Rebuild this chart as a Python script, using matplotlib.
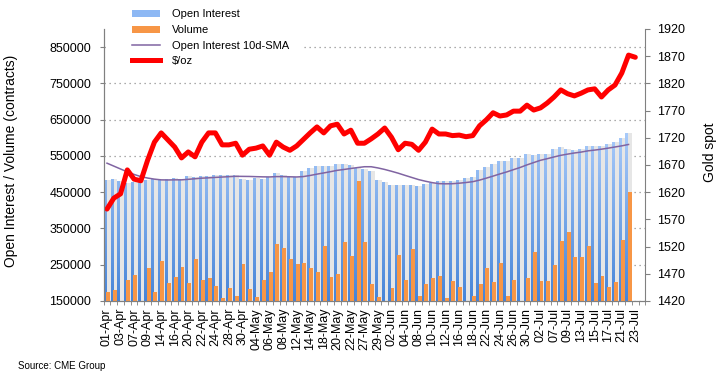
import numpy as np
import matplotlib
matplotlib.use('Agg')
import matplotlib.pyplot as plt
from matplotlib.path import Path
from matplotlib.patches import PathPatch, Patch, Rectangle
from matplotlib.lines import Line2D
from matplotlib.colors import LinearSegmentedColormap

plt.rcParams['font.family'] = ['Liberation Sans', 'DejaVu Sans']

dates = ['01-Apr', '02-Apr', '03-Apr', '06-Apr', '07-Apr', '08-Apr', '09-Apr', '13-Apr', '14-Apr', '15-Apr',
         '16-Apr', '17-Apr', '20-Apr', '21-Apr', '22-Apr', '23-Apr', '24-Apr', '27-Apr', '28-Apr', '29-Apr',
         '30-Apr', '01-May', '04-May', '05-May', '06-May', '07-May', '08-May', '11-May', '12-May', '13-May',
         '14-May', '15-May', '18-May', '19-May', '20-May', '21-May', '22-May', '26-May', '27-May', '28-May',
         '29-May', '01-Jun', '02-Jun', '03-Jun', '04-Jun', '05-Jun', '08-Jun', '09-Jun', '10-Jun', '11-Jun',
         '12-Jun', '15-Jun', '16-Jun', '17-Jun', '18-Jun', '19-Jun', '22-Jun', '23-Jun', '24-Jun', '25-Jun',
         '26-Jun', '29-Jun', '30-Jun', '01-Jul', '02-Jul', '06-Jul', '07-Jul', '08-Jul', '09-Jul', '10-Jul',
         '13-Jul', '14-Jul', '15-Jul', '16-Jul', '17-Jul', '20-Jul', '21-Jul', '22-Jul', '23-Jul', '24-Jul']

# thousands of contracts
open_interest = [485, 487, 480, 476, 478, 485, 485, 487, 487, 487,
                 489, 487, 494, 492, 494, 494, 497, 497, 497, 497,
                 487, 485, 488, 487, 492, 503, 497, 492, 492, 508,
                 518, 521, 521, 522, 529, 527, 524, 517, 515, 508,
                 485, 479, 471, 469, 469, 469, 466, 472, 476, 480,
                 480, 482, 485, 488, 492, 512, 520, 529, 535, 535,
                 543, 543, 556, 552, 555, 556, 568, 574, 568, 566,
                 568, 577, 577, 577, 584, 588, 599, 612]

volume = [176, 179, 140, 209, 223, 140, 241, 176, 259, 199,
          216, 245, 199, 265, 207, 213, 190, 158, 185, 165,
          251, 182, 162, 209, 231, 306, 297, 265, 253, 256,
          241, 229, 303, 215, 225, 312, 273, 480, 312, 198,
          162, 140, 185, 276, 209, 292, 163, 196, 213, 218,
          158, 204, 188, 140, 163, 196, 241, 202, 254, 163,
          209, 140, 213, 285, 204, 204, 248, 315, 340, 271,
          271, 303, 199, 218, 188, 202, 317, 450]

oi_sma = [530, 522, 514, 506, 499, 493, 489, 486, 484, 483.7,
          484.1, 484.1, 485.5, 487.1, 488.7, 489.6, 490.8, 491.8, 492.8, 493.8,
          493.6, 493.4, 492.8, 492.3, 492.1, 493.0, 493.0, 492.5, 492.0, 493.1,
          496.2, 499.8, 503.1, 506.6, 510.3, 512.7, 515.4, 517.9, 520.2, 520.2,
          516.9, 512.7, 507.7, 502.4, 496.4, 490.6, 484.8, 480.3, 476.4, 473.6,
          473.1, 473.4, 474.8, 476.7, 479.0, 483.3, 488.7, 494.4, 500.3, 505.8,
          512.1, 518.2, 525.3, 531.7, 538.0, 542.4, 547.2, 551.7, 555.0, 558.1,
          560.6, 564.0, 566.1, 568.6, 571.5, 574.7, 577.8, 581.6]

gold = [1589, 1609, 1617, 1661, 1644, 1641, 1679, 1712, 1729, 1716,
        1703, 1683, 1694, 1685, 1712, 1729, 1729, 1707, 1707, 1710,
        1688, 1699, 1701, 1705, 1688, 1712, 1703, 1697, 1705, 1717,
        1729, 1740, 1729, 1742, 1745, 1727, 1734, 1710, 1710, 1718,
        1727, 1738, 1721, 1698, 1710, 1708, 1697, 1712, 1736, 1727,
        1727, 1724, 1725, 1722, 1724, 1742, 1753, 1766, 1760, 1762,
        1769, 1769, 1780, 1771, 1775, 1784, 1795, 1808, 1801, 1797,
        1802, 1808, 1810, 1795, 1808, 1817, 1839, 1872, 1868]

n = len(dates)
x = np.arange(n)
def pad(v, scale=1.0):
    a = np.full(n, np.nan)
    a[:len(v)] = np.array(v, dtype=float) * scale
    return a

oi = pad(open_interest, 1000)
vol = pad(volume, 1000)
sma = pad(oi_sma, 1000)
px = pad(gold)

fig = plt.figure(figsize=(7.2, 3.83), dpi=100)
ax = fig.add_axes([0.1439, 0.2141, 0.7526, 0.7102])
ax2 = ax.twinx()

ok = ~np.isnan(oi)
# light "shadow" stripes next to the OI bars
ax.bar(x[ok] + 0.25, oi[ok], 0.56, color='#e6e6e6', zorder=1.5, linewidth=0)
blue = ax.bar(x[ok] - 0.25, oi[ok], 0.44, color='#6fa3ea', zorder=2, linewidth=0)
paths = [b.get_path().transformed(b.get_patch_transform()) for b in blue]
clip = PathPatch(Path.make_compound_path(*paths), transform=ax.transData, facecolor='none', edgecolor='none')
ax.add_patch(clip)
cmap = LinearSegmentedColormap.from_list('oi', ['#4684d8', '#a9cbfa'])
grad = np.linspace(1, 0, 256).reshape(-1, 1)
im = ax.imshow(grad, extent=(-0.5, n - 0.5, 150000, 615000), aspect='auto', cmap=cmap, zorder=2.1)
im.set_clip_path(clip)

ok_v = ~np.isnan(vol)
ax.bar(x[ok_v] + 0.15, vol[ok_v], 0.58, color='#f79646', zorder=3, linewidth=0)
ax.plot(x, sma, color='#8064a2', lw=1.1, zorder=4)

ax2.plot(x, px, color='#ff0000', lw=3.6, solid_capstyle='round', solid_joinstyle='round')

ax.set_xlim(-0.5, n - 0.5)
ax.set_ylim(150000, 900000)
ax.set_yticks(np.arange(150000, 850001, 100000))
ax2.set_ylim(1420, 1920)
ax2.set_yticks(np.arange(1420, 1921, 50))

ax.set_xticks(x[::2])
ax.set_xticklabels(dates[::2], rotation=90, fontsize=9)
ax.set_xticks(np.arange(n + 1) - 0.5, minor=True)
ax.tick_params(axis='x', which='major', length=0, pad=5)
ax.tick_params(axis='x', which='minor', length=3, color='#808080')
ax.tick_params(axis='y', labelsize=9, length=3, color='#808080', pad=6)
ax2.tick_params(axis='y', labelsize=9, length=3.5, color='#808080', pad=5)

ax.yaxis.grid(True, linestyle=(0, (1, 3)), color='#909090', lw=0.9)
ax.set_axisbelow(True)

for a in (ax, ax2):
    a.spines['top'].set_visible(False)
    for s in ('left', 'right', 'bottom'):
        a.spines[s].set_color('#808080')
ax.spines['right'].set_visible(False)

ax.set_ylabel('Open Interest / Volume (contracts)', fontsize=10)
ax.yaxis.set_label_coords(-0.158, 0.515)
ax2.set_ylabel('Gold spot', fontsize=10)
ax2.yaxis.set_label_coords(1.106, 0.548)

fig.patches.append(Rectangle((107 / 720, 1 - 74 / 383), 196 / 720, 70 / 383, transform=fig.transFigure,
                             facecolor='white', edgecolor='none', zorder=4))
handles = [Patch(facecolor='#8db8f4'), Patch(facecolor='#f79646'),
           Line2D([], [], color='#8064a2', lw=1.1), Line2D([], [], color='#ff0000', lw=3.6)]
labels = ['Open Interest', 'Volume', 'Open Interest 10d-SMA', '$/oz']
fig.legend(handles, labels, loc='upper left', bbox_to_anchor=(128 / 720, 1 - 5 / 383), frameon=False,
           fontsize=8, handlelength=2.45, handleheight=0.6, handletextpad=1.1, labelspacing=0.5,
           borderpad=0.4, borderaxespad=0)

fig.text(18 / 720, 1 - 366 / 383, 'Source: CME Group', fontsize=7, va='center')

fig.savefig('out.png', dpi=100)
